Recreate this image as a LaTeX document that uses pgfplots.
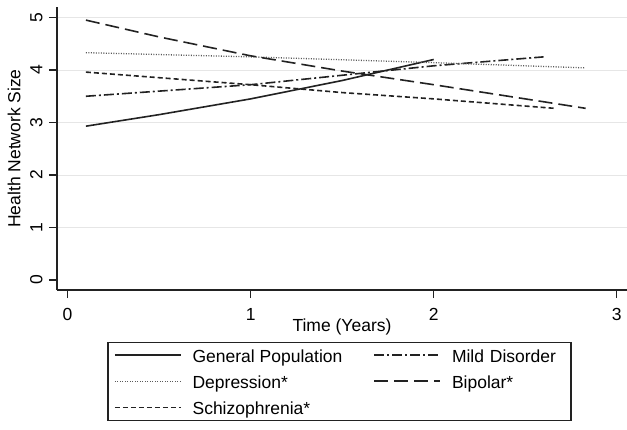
\documentclass[border=0pt]{standalone}
\usepackage{pgfplots}
\pgfplotsset{compat=1.18}
\usepackage{fontspec}
\setmainfont{Liberation Sans}
\definecolor{ln}{HTML}{222222}
\definecolor{gridc}{HTML}{E6E6E6}
\begin{document}
\begin{tikzpicture}[x=1pt,y=1pt]
\path[use as bounding box] (-57,-139) rectangle (570,290);
\begin{axis}[
  at={(0,0)}, anchor=south west,
  scale only axis, width=570pt, height=283pt,
  xmin=-0.058, xmax=3.056, ymin=-0.19, ymax=5.2,
  axis x line*=bottom, axis y line*=left,
  axis line style={ln, line width=1.2pt},
  xtick={0,1,2,3}, ytick={1,2,3,4,5},
  extra y ticks={0}, extra y tick style={grid=none},
  tick align=outside, major tick length=8pt,
  tick style={ln, line width=1.2pt},
  ymajorgrids, grid style={gridc, line width=1pt},
  font=\fontsize{17.5}{20}\selectfont,
  /pgf/number format/assume math mode=true,
  yticklabel style={rotate=90, anchor=south, yshift=3pt},
  xticklabel style={anchor=north, yshift=-7pt},
  xlabel={Time (Years)}, ylabel={Health Network Size},
  xlabel style={at={(axis description cs:0.5,-0.131)}, anchor=center},
  ylabel style={at={(axis description cs:-0.0754,0.5)}, anchor=center},
  every axis plot/.append style={ln, line width=1.6pt},
  legend columns=2,
  legend cell align=left,
  legend image code/.code={\draw[#1] (0pt,0pt) -- (66pt,0pt);},
  legend style={at={(axis description cs:0.4956,0)}, anchor=south, yshift=-131pt,
    draw=ln, line width=1.2pt, font=\fontsize{17.5}{20}\selectfont,
    inner xsep=6pt, inner ysep=0pt, row sep=0pt,
    /tikz/every odd column/.append style={column sep=8pt},
    /tikz/every even column/.append style={column sep=28pt},
    /tikz/column 4/.append style={text width=110pt},
    nodes={inner xsep=3pt, inner ysep=0pt, text height=20.5pt, text depth=5.6pt}},
]
\addplot[solid] coordinates {(0.1,2.93)(0.5,3.15)(1,3.45)(1.5,3.8)(2,4.2)};
\addlegendentry{General Population}
\addplot[dash pattern=on 10pt off 3pt on 2pt off 3pt] coordinates {(0.1,3.5)(1,3.72)(2,4.08)(2.6,4.25)};
\addlegendentry{Mild Disorder}
\addplot[dash pattern=on 1pt off 1.5pt, line width=1.3pt, color=ln!75] coordinates {(0.1,4.33)(1,4.25)(2,4.14)(2.83,4.04)};
\addlegendentry{Depression*}
\addplot[dash pattern=on 14pt off 6pt] coordinates {(0.1,4.95)(0.5,4.63)(1,4.27)(1.5,3.98)(2,3.72)(2.5,3.45)(2.83,3.27)};
\addlegendentry{Bipolar*}
\addplot[dash pattern=on 5pt off 3pt] coordinates {(0.1,3.96)(1,3.72)(1.5,3.57)(2,3.45)(2.66,3.27)};
\addlegendentry{Schizophrenia*}
\end{axis}
\end{tikzpicture}
\end{document}
